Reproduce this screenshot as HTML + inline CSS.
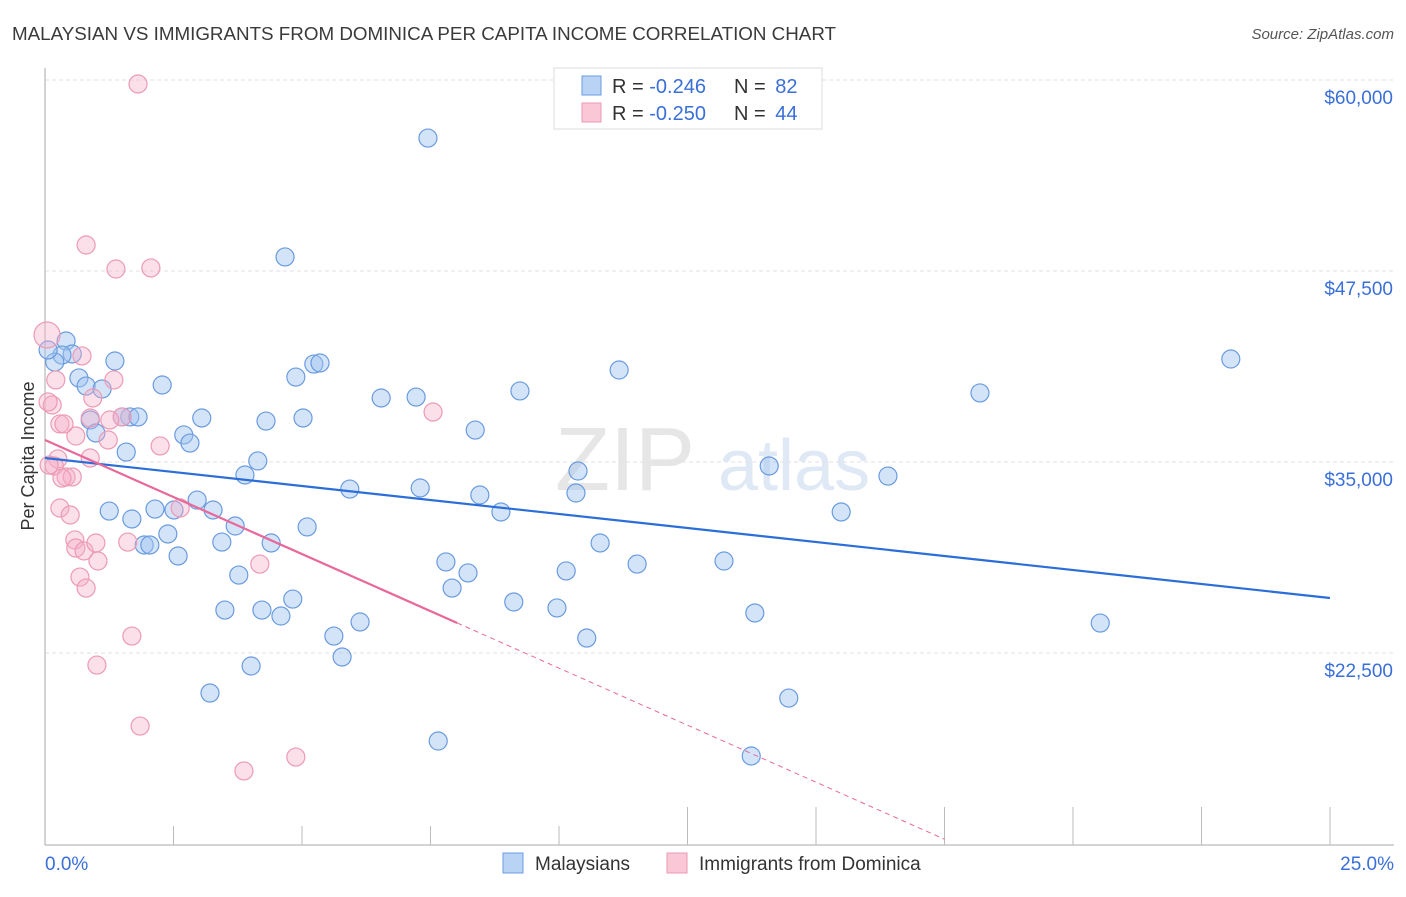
<!DOCTYPE html>
<html><head><meta charset="utf-8"><style>
body{margin:0;background:#fff;font-family:"Liberation Sans",sans-serif;}
svg text{font-family:"Liberation Sans",sans-serif;}
</style></head><body>
<svg id="chart" width="1406" height="892" xmlns="http://www.w3.org/2000/svg">
<text x="12" y="40" font-size="18.8" fill="#3a3a3a">MALAYSIAN VS IMMIGRANTS FROM DOMINICA PER CAPITA INCOME CORRELATION CHART</text>
<text x="1394" y="39" font-size="15" fill="#555" font-style="italic" text-anchor="end">Source: ZipAtlas.com</text>
<g><text x="555" y="490" font-size="90" fill="#e6e6e6" font-family="Liberation Serif">ZIP</text><text x="718" y="490" font-size="72" fill="#dfe8f5">atlas</text></g>
<g id="grid"></g>
<g id="axes"></g>
<g id="pts"></g>
<g id="trend"></g>
<text transform="translate(34,456) rotate(-90)" font-size="18" fill="#333" text-anchor="middle">Per Capita Income</text>
<g>
<rect x="554" y="68" width="268" height="61" fill="#fff" stroke="#ddd"/>
<rect x="582" y="76" width="19" height="19" fill="#b9d3f5" stroke="#6a9be0"/>
<rect x="582" y="103" width="19" height="19" fill="#f9c7d6" stroke="#ec9ab5"/>
<text x="612" y="93" font-size="20" fill="#333">R = <tspan fill="#3a6fd8">-0.246</tspan></text>
<text x="734" y="93" font-size="20" fill="#333">N = <tspan fill="#3a6fd8" dx="4">82</tspan></text>
<text x="612" y="120" font-size="20" fill="#333">R = <tspan fill="#3a6fd8">-0.250</tspan></text>
<text x="734" y="120" font-size="20" fill="#333">N = <tspan fill="#3a6fd8" dx="4">44</tspan></text>
</g>
<g>
<rect x="503" y="853" width="20" height="20" fill="#b9d3f5" stroke="#6a9be0"/>
<text x="535" y="870" font-size="19" fill="#333">Malaysians</text>
<rect x="667" y="853" width="20" height="20" fill="#f9c7d6" stroke="#ec9ab5"/>
<text x="699" y="870" font-size="19" fill="#333">Immigrants from Dominica</text>
</g>
</svg>
<script>
const yTicks=[60000,47500,35000,22500];
const yTickLabels=["$60,000","$47,500","$35,000","$22,500"];
const xTickVals=[0,2.5,5,7.5,10,12.5,15,17.5,20,22.5,25];
const blueX=[0.41,0.53,0.33,0.19,0.66,0.80,1.11,1.36,2.28,1.65,0.88,0.99,1.50,1.81,1.58,1.25,1.69,1.93,2.04,2.39,2.14,2.51,2.59,2.96,2.70,2.82,3.05,3.27,3.44,3.70,3.50,3.77,3.89,4.14,4.30,4.22,4.01,3.21,4.59,4.40,4.82,4.88,5.02,5.10,5.23,5.35,4.67,7.45,5.62,5.78,5.93,6.13,6.54,7.22,7.30,7.80,7.65,7.92,8.23,8.37,8.46,8.87,9.12,9.24,9.96,10.14,10.33,10.37,10.54,10.80,11.17,11.52,13.21,13.81,14.09,14.47,13.74,15.49,16.40,18.19,20.53,23.07,0.06];
const blueY=[42920,42070,42000,41540,40500,39970,39780,41610,40040,37950,37750,36900,37950,37950,35650,31790,31270,29570,29570,30290,31920,31860,28850,32510,36770,36240,37880,31860,29760,30810,25310,27600,34150,35070,37680,25310,21650,19880,24920,29700,26030,40560,37880,30750,41410,41480,48420,56200,23610,22240,33230,24530,39190,39250,33300,28460,16740,26750,27740,37090,32840,31730,25840,39650,25450,27870,32970,34410,23480,29700,41020,28320,28520,25120,34740,19550,15760,31730,34080,39520,24460,41740,42330];
const pinkX=[1.81,0.80,1.38,2.06,0.04,0.72,0.21,0.14,0.06,1.34,0.93,0.88,1.23,0.60,0.29,0.37,1.50,2.24,0.25,0.18,0.88,0.41,0.53,0.29,0.49,0.58,0.60,0.76,0.99,1.03,1.61,0.68,0.80,2.63,4.18,1.69,1.01,1.85,3.87,4.88,7.55,1.26,0.33,0.08];
const pinkY=[59740,49200,47630,47700,43310,41940,40370,38730,38930,40370,39190,37880,36440,36700,37490,37490,37950,36050,35200,34740,35260,34020,34020,31990,31530,29900,29370,29180,29700,28520,29760,27470,26750,31990,28320,23610,21710,17720,14780,15690,38270,37750,33950,34800];
const blueTrend=[35261,26099]; // values at 0% and 25%
const pinkTrend=[36440,-1493]; // intercept, slope per %
const pinkSolidEnd=8.02, pinkDashEnd=17.5;
const NS="http://www.w3.org/2000/svg";
const X=p=>45+p*51.4, Y=v=>80+(60000-v)*191/12500;
function mk(t,a,parent){const e=document.createElementNS(NS,t);for(const k in a)e.setAttribute(k,a[k]);parent.appendChild(e);return e;}
const grid=document.getElementById('grid'),axes=document.getElementById('axes'),pts=document.getElementById('pts'),tr=document.getElementById('trend');
yTicks.forEach((v,i)=>{
 const l=mk('line',{x1:45,x2:1394,y1:Y(v),y2:Y(v),stroke:'#e2e2ea','stroke-dasharray':'4,3'},grid);
 
 
 const t=mk('text',{x:1393,y:Y(v)+24,'font-size':19,fill:'#3a6fd8','text-anchor':'end'},grid);
 t.textContent=yTickLabels[i];
 
 
});
mk('line',{x1:45,x2:45,y1:68,y2:845,stroke:'#aaa'},axes);
mk('line',{x1:45,x2:1394,y1:845,y2:845,stroke:'#aaa'},axes);
xTickVals.forEach((p,i)=>{if(i==0)return;const l=mk('line',{x1:X(p),x2:X(p),y1:i<5?826:807,y2:845,stroke:'#bbb'},axes);
 
 });
let t0=mk('text',{x:45,y:870,'font-size':19,fill:'#3a6fd8'},axes);t0.textContent='0.0%';

let t1=mk('text',{x:1394,y:870,'font-size':19,fill:'#3a6fd8','text-anchor':'end'},axes);t1.textContent='25.0%';

blueX.forEach((p,i)=>{const c=mk('circle',{cx:X(p),cy:Y(blueY[i]),r:9,fill:'rgba(160,195,240,0.45)',stroke:'#6a9be0','stroke-width':1.2},pts);
 
 });
pinkX.forEach((p,i)=>{const c=mk('circle',{cx:X(p),cy:Y(pinkY[i]),r:i==4?13:9,fill:'rgba(245,175,200,0.4)',stroke:'#ec9ab5','stroke-width':1.2},pts);
 
 });
const bl=mk('line',{x1:X(0),y1:Y(blueTrend[0]),x2:X(25),y2:Y(blueTrend[1]),stroke:'#2b6ed8','stroke-width':2.2},tr);


const pv=p=>pinkTrend[0]+pinkTrend[1]*p;
const pl=mk('line',{x1:X(0),y1:Y(pv(0)),x2:X(pinkSolidEnd),y2:Y(pv(pinkSolidEnd)),stroke:'#e8689a','stroke-width':2.2},tr);


const pd=mk('line',{x1:X(pinkSolidEnd),y1:Y(pv(pinkSolidEnd)),x2:X(pinkDashEnd),y2:Y(pv(pinkDashEnd)),stroke:'#e8689a','stroke-width':1,'stroke-dasharray':'5,4'},tr);


</script>
</body></html>
